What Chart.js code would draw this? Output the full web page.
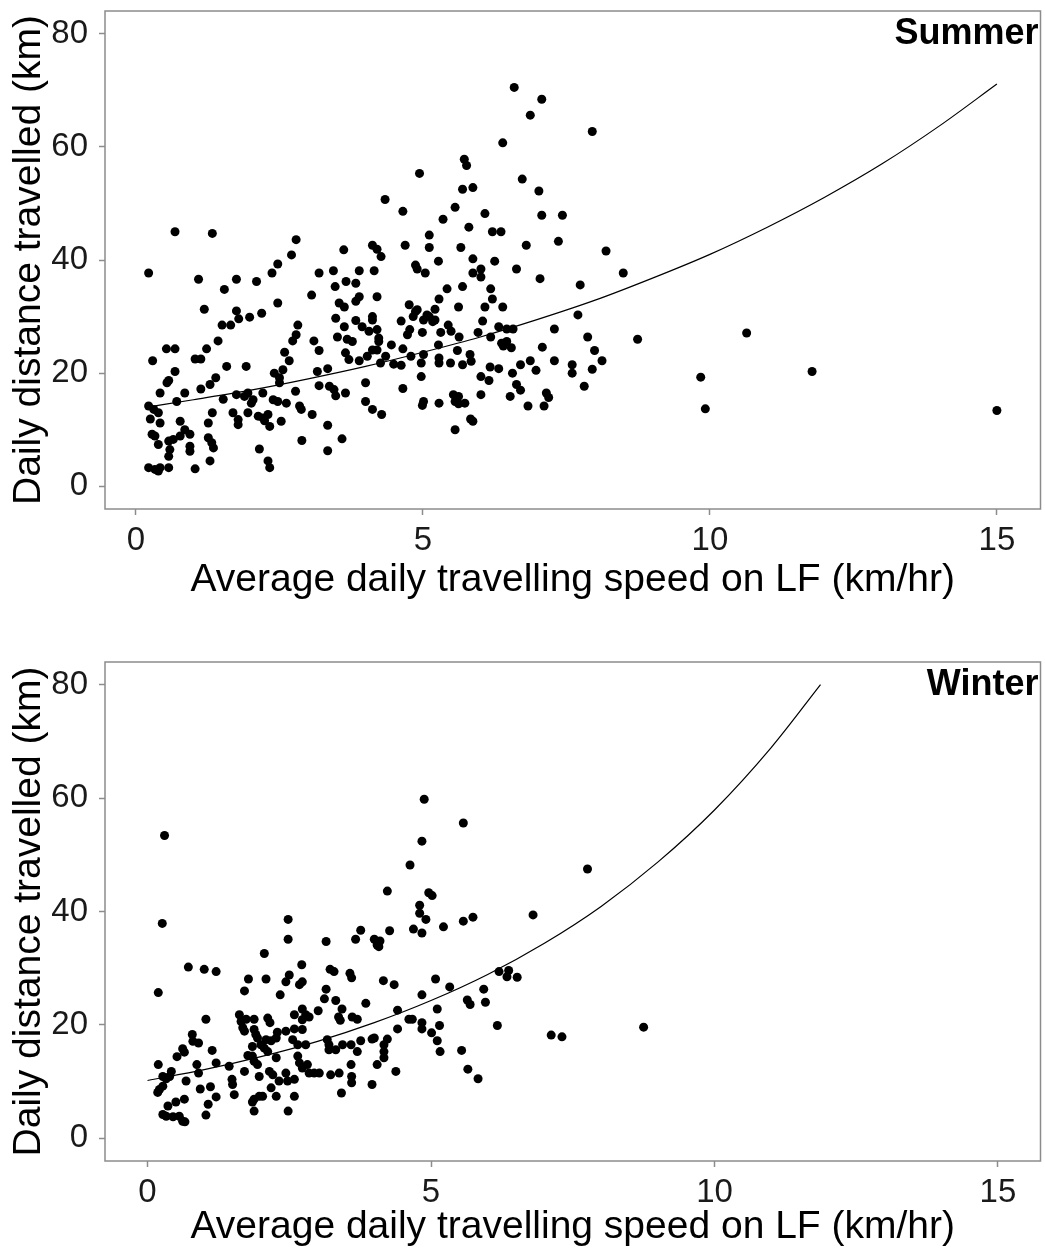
<!DOCTYPE html>
<html lang="en">
<head>
    <meta charset="UTF-8">
    <title>Daily distance travelled vs speed on LF</title>
    <script src="https://cdn.jsdelivr.net/npm/chart.js"></script>
    <style>
        body { margin: 0; background: #fff; }
        .painel { position: absolute; left: 0; width: 1045px; height: 628px; }
        canvas { display: block; }
    </style>
</head>
<body>
    <div class="painel" style="top: 0px;"><canvas id="summerCanvas" width="1045" height="628"></canvas></div>
    <div class="painel" style="top: 628px;"><canvas id="winterCanvas" width="1045" height="628"></canvas></div>
<script>
    // ---- data ----
    const xTicks = [0, 5, 10, 15];
    const yTicks = [0, 20, 40, 60, 80];
    const xTitle = 'Average daily travelling speed on LF (km/hr)';
    const yTitle = 'Daily distance travelled (km)';

    // Summer points
    const summerSpeed = [
        0.22, 1.09, 1.75, 2.10, 1.54, 2.37, 2.47, 2.71, 3.19, 3.44, 3.62, 3.89, 4.15, 3.66, 3.83, 3.47, 3.89, 3.83, 3.06, 3.54,
        3.63, 4.12, 2.47, 1.19, 1.75, 1.79, 1.98, 2.19, 1.50, 1.65, 1.43, 1.23, 0.53, 0.68, 0.29, 1.03, 1.13, 2.82, 2.79, 2.73,
        3.10, 3.19, 3.48, 3.63, 3.51, 3.68, 3.77, 3.83, 3.94, 4.06, 4.12, 4.03, 3.65, 3.71, 3.89, 2.59, 2.67, 2.56, 2.41, 2.50,
        2.50, 1.58, 1.92, 1.39, 1.29, 1.13, 0.68, 0.57, 0.54, 0.42, 0.85, 0.71, 1.52, 1.75, 1.89, 1.95, 2.01, 2.04, 2.21, 2.39,
        2.47, 2.62, 2.78, 3.16, 3.34, 3.19, 3.37, 3.45, 3.48, 3.65, 4.00, 4.00, 4.12, 0.22, 0.31, 0.39, 0.42, 0.25, 0.77, 0.85,
        0.94, 1.26, 1.33, 1.69, 1.78, 1.78, 1.95, 2.13, 2.21, 2.30, 2.33, 2.24, 2.53, 2.85, 2.88, 3.07, 3.34, 0.28, 0.33, 0.39,
        0.57, 0.65, 0.77, 0.59, 0.57, 0.94, 0.94, 1.26, 1.32, 1.35, 1.29, 1.03, 0.22, 0.33, 0.42, 0.57, 0.39, 2.15, 2.30, 2.33,
        2.89, 3.59, 3.34, 0.68, 1.33, 2.79, 4.12, 6.59, 7.07, 6.87, 7.95, 6.39, 5.72, 5.76, 4.94, 6.73, 7.02, 5.69, 5.87, 4.34,
        4.65, 5.56, 5.35, 6.08, 7.07, 7.43, 5.80, 6.21, 6.36, 5.11, 5.11, 4.69, 5.66, 6.80, 7.36, 8.19, 4.20, 4.27, 5.27, 5.87,
        6.25, 5.87, 6.01, 6.01, 6.63, 7.04, 7.74, 4.87, 4.90, 5.04, 4.20, 5.42, 5.69, 5.28, 6.18, 6.21, 5.62, 6.08, 6.39, 4.76,
        4.87, 4.90, 4.83, 5.21, 5.01, 5.07, 5.11, 5.17, 5.21, 4.62, 4.12, 6.04, 7.70, 4.77, 4.73, 4.99, 5.31, 5.44, 5.49, 5.63,
        5.96, 6.18, 6.32, 6.46, 6.57, 7.29, 7.87, 4.20, 4.23, 4.23, 4.45, 4.65, 4.20, 4.35, 4.26, 4.49, 4.62, 4.79, 5.01, 4.97,
        5.27, 5.28, 5.28, 5.48, 5.60, 5.82, 5.84, 5.69, 6.37, 6.46, 6.40, 6.54, 7.08, 7.29, 7.99, 8.12, 7.95, 7.60, 7.60, 6.87,
        6.97, 6.70, 6.56, 6.17, 6.32, 6.01, 6.15, 6.63, 6.70, 6.52, 6.01, 7.15, 7.19, 6.83, 7.11, 7.81, 4.97, 4.65, 5.01, 4.99,
        5.28, 5.53, 5.62, 5.56, 5.73, 5.62, 5.83, 5.87, 5.56, 4.28, 8.49, 8.74, 10.64, 9.84, 9.92, 11.78, 15.00
    ];
    const summerDist = [
        37.7, 36.6, 36.6, 36.2, 34.8, 37.7, 39.3, 40.9, 37.7, 38.1, 41.8, 38.1, 38.1, 36.2, 35.9, 35.3, 33.5, 32.7, 33.8, 32.4,
        31.7, 30.0, 32.4, 31.3, 31.0, 29.6, 29.9, 30.6, 28.5, 28.5, 25.7, 24.3, 24.3, 24.3, 22.2, 22.5, 22.5, 28.5, 26.8, 25.7,
        25.7, 24.0, 29.7, 28.2, 26.4, 26.0, 25.6, 29.3, 28.2, 27.4, 24.1, 23.0, 23.6, 22.4, 22.2, 23.7, 22.2, 20.6, 20.0, 19.2,
        18.3, 21.2, 21.2, 19.2, 18.0, 17.2, 20.3, 18.7, 18.3, 16.5, 16.5, 15.0, 15.4, 16.2, 15.9, 16.5, 14.7, 15.3, 16.5, 15.3,
        15.0, 14.7, 16.8, 20.3, 20.8, 17.8, 17.7, 17.1, 16.0, 16.5, 18.3, 15.0, 13.6, 14.2, 13.6, 13.0, 11.2, 11.9, 11.5, 10.0,
        9.2, 11.2, 13.0, 13.0, 11.8, 10.9, 13.0, 12.4, 12.1, 12.7, 10.6, 11.6, 11.5, 14.2, 13.6, 12.7, 10.8, 9.2, 8.9, 7.4,
        8.0, 8.3, 8.9, 6.5, 5.3, 7.1, 6.2, 8.6, 7.7, 6.8, 4.5, 3.1, 3.3, 3.0, 3.3, 3.3, 2.7, 6.6, 4.5, 3.3,
        8.1, 8.4, 6.3, 45.0, 44.7, 43.6, 42.6, 70.5, 68.4, 65.6, 62.7, 60.7, 57.8, 56.7, 55.3, 54.3, 52.2, 52.5, 52.8, 50.7,
        48.6, 49.3, 47.2, 48.2, 47.9, 47.9, 45.8, 45.0, 45.0, 44.4, 42.2, 42.6, 42.2, 42.6, 43.3, 41.6, 41.9, 40.6, 39.8, 40.2,
        39.8, 37.7, 38.4, 37.0, 38.4, 36.7, 35.6, 39.1, 38.4, 37.7, 33.5, 34.9, 35.3, 33.1, 34.9, 33.1, 31.7, 31.7, 31.7, 32.1,
        30.9, 31.2, 30.0, 31.3, 29.4, 30.3, 30.0, 29.1, 29.4, 29.2, 29.4, 29.2, 30.3, 27.7, 26.8, 27.2, 27.2, 28.5, 27.4, 26.4,
        27.2, 26.4, 28.2, 27.8, 27.8, 27.8, 26.4, 27.7, 26.2, 25.6, 25.0, 24.3, 24.1, 23.0, 21.8, 21.6, 21.4, 23.0, 23.3, 21.8,
        25.0, 22.7, 21.8, 21.8, 24.0, 23.3, 22.1, 21.5, 25.3, 25.6, 24.8, 24.5, 24.6, 22.2, 24.0, 22.2, 20.7, 21.5, 20.0, 22.2,
        20.5, 21.5, 20.0, 21.1, 20.8, 19.4, 18.7, 18.0, 17.0, 15.9, 16.2, 16.5, 15.7, 14.2, 14.2, 17.7, 19.4, 17.3, 15.0, 14.3,
        14.7, 16.2, 15.9, 15.0, 14.7, 14.6, 11.9, 11.5, 10.0, 12.7, 37.7, 26.0, 27.1, 19.3, 13.7, 20.3, 13.4
    ];
    // Summer fitted curve
    const summerFitSpeed = [0.2, 1, 2, 3, 4, 5, 6, 7, 8, 9, 10, 11, 12, 13, 14, 15];
    const summerFitDist = [14.0, 15.3, 17.0, 19.0, 21.2, 23.7, 26.4, 29.5, 32.9, 36.8, 41.0, 45.8, 51.1, 57.0, 63.7, 71.1];

    // Winter points
    const winterSpeed = [
        2.48, 3.15, 3.67, 3.76, 4.00, 4.05, 2.06, 0.72, 1.00, 1.21, 2.72, 3.22, 3.29, 3.57, 3.60, 1.78, 2.09, 2.50, 2.44, 2.73,
        2.68, 1.71, 2.34, 3.15, 3.12, 3.32, 3.85, 0.19, 3.43, 3.37, 3.40, 3.61, 3.70, 1.03, 1.62, 1.65, 1.74, 1.88, 2.12, 2.16,
        2.59, 2.73, 2.79, 2.73, 2.85, 3.01, 1.68, 1.71, 1.88, 1.91, 1.94, 2.29, 2.44, 2.59, 2.73, 2.09, 2.18, 2.27, 2.00, 2.06,
        1.85, 2.12, 2.56, 2.65, 2.79, 3.17, 3.20, 3.20, 3.32, 3.44, 3.59, 3.70, 3.76, 3.96, 1.85, 1.77, 1.88, 1.94, 2.27, 2.65,
        2.68, 2.73, 2.82, 2.85, 2.94, 3.03, 3.23, 3.38, 3.59, 3.60, 3.60, 3.96, 4.05, 1.21, 1.14, 1.44, 1.71, 1.97, 2.15, 2.21,
        2.32, 2.44, 2.47, 2.59, 2.18, 2.27, 2.59, 1.49, 1.50, 1.53, 1.88, 1.97, 2.03, 1.85, 1.88, 2.48, 3.42, 0.93, 1.11, 1.21,
        1.07, 1.03, 0.68, 0.87, 0.90, 0.19, 0.27, 0.33, 0.21, 0.27, 0.18, 0.42, 0.39, 0.52, 0.62, 0.65, 0.79, 0.80, 0.90, 0.50,
        0.65, 0.36, 0.27, 0.33, 0.45, 0.56, 0.62, 0.66, 0.30, 0.26, 2.48, 4.88, 5.57, 4.84, 4.63, 7.76, 4.23, 4.96, 5.02, 4.80,
        4.80, 4.91, 4.69, 4.84, 5.22, 5.57, 5.74, 6.80, 4.27, 4.10, 4.08, 4.16, 4.35, 5.08, 5.33, 4.84, 5.93, 6.20, 6.37, 6.34,
        6.52, 5.64, 5.69, 5.96, 5.11, 4.41, 4.61, 4.67, 4.84, 4.84, 5.15, 4.41, 5.01, 5.11, 5.16, 5.54, 5.65, 5.83, 6.17, 7.12,
        7.31, 4.00, 4.17, 4.23, 4.17, 4.17, 4.38, 8.75
    ];
    const winterDist = [
        35.1, 34.7, 35.1, 36.7, 35.1, 34.1, 32.6, 30.2, 29.8, 29.4, 30.6, 29.8, 29.4, 29.1, 28.3, 28.1, 28.1, 28.8, 27.6, 27.6,
        27.1, 26.0, 25.3, 26.3, 24.6, 24.3, 23.8, 25.7, 22.8, 21.4, 20.8, 21.4, 21.0, 21.0, 21.8, 20.6, 21.0, 21.0, 21.2, 20.4,
        21.8, 22.8, 21.8, 20.9, 21.4, 22.5, 19.5, 18.9, 19.2, 18.3, 17.7, 18.7, 18.9, 19.3, 19.2, 17.4, 17.2, 17.7, 16.5, 15.9,
        16.2, 15.3, 17.4, 16.5, 16.5, 17.4, 16.5, 15.6, 15.6, 16.5, 16.5, 15.3, 17.2, 17.5, 14.5, 14.6, 13.6, 13.0, 14.2, 14.5,
        13.3, 12.4, 13.0, 11.5, 11.5, 11.5, 11.2, 11.5, 13.0, 10.9, 9.8, 9.5, 13.0, 13.3, 15.5, 12.7, 11.8, 10.9, 11.8, 11.2,
        10.1, 11.5, 10.1, 10.4, 8.9, 7.4, 7.4, 10.4, 9.5, 7.7, 6.9, 7.4, 7.4, 6.4, 4.8, 4.8, 8.0, 8.7, 9.1, 7.3,
        6.0, 4.1, 10.1, 13.0, 11.5, 13.0, 10.9, 10.5, 8.6, 9.2, 8.1, 11.8, 10.9, 14.4, 15.8, 15.2, 18.3, 17.1, 16.8, 6.4,
        6.9, 5.7, 4.2, 3.9, 3.8, 3.9, 3.0, 2.9, 53.4, 37.9, 38.6, 59.8, 55.6, 52.4, 48.2, 47.5, 43.6, 43.3, 42.8, 41.1,
        39.7, 38.6, 36.9, 36.2, 37.3, 38.3, 39.0, 39.4, 36.6, 34.8, 33.8, 27.8, 27.1, 28.1, 26.7, 25.3, 26.3, 29.4, 29.6, 28.5,
        28.4, 24.4, 23.6, 24.0, 22.8, 22.6, 21.0, 21.0, 20.4, 19.3, 19.9, 19.3, 18.6, 17.2, 15.3, 15.5, 12.2, 10.5, 19.9, 18.2,
        17.9, 17.7, 16.5, 17.5, 15.3, 14.2, 11.8, 19.6
    ];
    // Winter fitted curve
    const winterFitSpeed = [0, 1, 2, 3, 4, 5, 6, 7, 8, 9, 10, 11, 11.87];
    const winterFitDist = [10.2, 12.1, 14.4, 17.1, 20.4, 24.3, 28.9, 34.4, 40.9, 48.7, 57.9, 68.9, 80.0];

    const fonte = '"Liberation Sans", Arial, sans-serif';
    const cinza = '#8c8c8c';

    // grey frame round the panel, drawn on top like the reference
    const moldura = {
        id: 'moldura',
        afterDraw(chart) {
            const a = chart.chartArea;
            const ctx = chart.ctx;
            ctx.save();
            ctx.strokeStyle = cinza;
            ctx.lineWidth = 1.5;
            ctx.strokeRect(a.left, a.top, a.right - a.left, a.bottom - a.top);
            ctx.restore();
        }
    };

    // season label in the top right corner
    const rotulo = {
        id: 'rotulo',
        afterDraw(chart, args, opts) {
            const a = chart.chartArea;
            const ctx = chart.ctx;
            ctx.save();
            ctx.font = 'bold 36px ' + fonte;
            ctx.fillStyle = '#000';
            ctx.textAlign = 'right';
            ctx.textBaseline = 'alphabetic';
            ctx.fillText(opts.text, a.right - 2, a.top + 33);
            ctx.restore();
        }
    };

    // no extra room for tick labels, the box sizes below decide the plot area
    function semPadding(s) {
        s.paddingTop = 0;
        s.paddingBottom = 0;
        s.paddingLeft = 0;
        s.paddingRight = 0;
    }

    function desenhar(canvasId, estacao, speeds, dists, fitX, fitY, xMin, xMax, caixa) {
        let pontos = [];
        for (let i = 0; i < speeds.length; i++) {
            pontos.push({ x: speeds[i], y: dists[i] });
        }
        let curva = [];
        for (let i = 0; i < fitX.length; i++) {
            curva.push({ x: fitX[i], y: fitY[i] });
        }

        const config = {
            type: 'scatter',
            data: {
                datasets: [{
                    label: estacao,
                    data: pontos,
                    pointRadius: 4.5,
                    pointHoverRadius: 4.5,
                    backgroundColor: '#000',
                    borderWidth: 0
                }, {
                    label: estacao + ' fit',
                    data: curva,
                    showLine: true,
                    pointRadius: 0,
                    borderColor: '#000',
                    borderWidth: 1.2,
                    cubicInterpolationMode: 'monotone',
                    fill: false
                }]
            },
            options: {
                responsive: false,
                animation: false,
                events: [],
                layout: { padding: { top: caixa.top, right: 2.5, left: 0, bottom: 0 } },
                plugins: {
                    legend: { display: false },
                    tooltip: { enabled: false },
                    rotulo: { text: estacao }
                },
                scales: {
                    x: {
                        type: 'linear',
                        min: xMin,
                        max: xMax,
                        afterBuildTicks: (s) => { s.ticks = xTicks.map(v => ({ value: v })); },
                        afterFit: (s) => { s.height = caixa.xHeight; semPadding(s); },
                        grid: { drawOnChartArea: false, drawTicks: true, tickLength: 6, tickColor: cinza, tickWidth: 1.5 },
                        border: { display: false },
                        ticks: { font: { family: fonte, size: 33 }, color: '#1a1a1a', padding: 6, maxRotation: 0 },
                        title: {
                            display: true, text: xTitle, color: '#000',
                            font: { family: fonte, size: 39 },
                            padding: { top: 0, bottom: caixa.titleBottom }
                        }
                    },
                    y: {
                        type: 'linear',
                        min: -4,
                        max: 84,
                        afterBuildTicks: (s) => { s.ticks = yTicks.map(v => ({ value: v })); },
                        afterFit: (s) => { s.width = 105; semPadding(s); },
                        grid: { drawOnChartArea: false, drawTicks: true, tickLength: 6, tickColor: cinza, tickWidth: 1.5 },
                        border: { display: false },
                        ticks: { font: { family: fonte, size: 33 }, color: '#1a1a1a', padding: 11 },
                        title: {
                            display: true, text: yTitle, color: '#000',
                            font: { family: fonte, size: 39 },
                            padding: { top: 6, bottom: 0 }
                        }
                    }
                }
            },
            plugins: [moldura, rotulo]
        };

        new Chart(document.getElementById(canvasId), config);
    }

    desenhar('summerCanvas', 'Summer', summerSpeed, summerDist, summerFitSpeed, summerFitDist, -0.54, 15.76,
        { top: 11, xHeight: 119, titleBottom: 24 });
    desenhar('winterCanvas', 'Winter', winterSpeed, winterDist, winterFitSpeed, winterFitDist, -0.75, 15.75,
        { top: 34, xHeight: 95, titleBottom: 5 });
</script>
</body>
</html>
